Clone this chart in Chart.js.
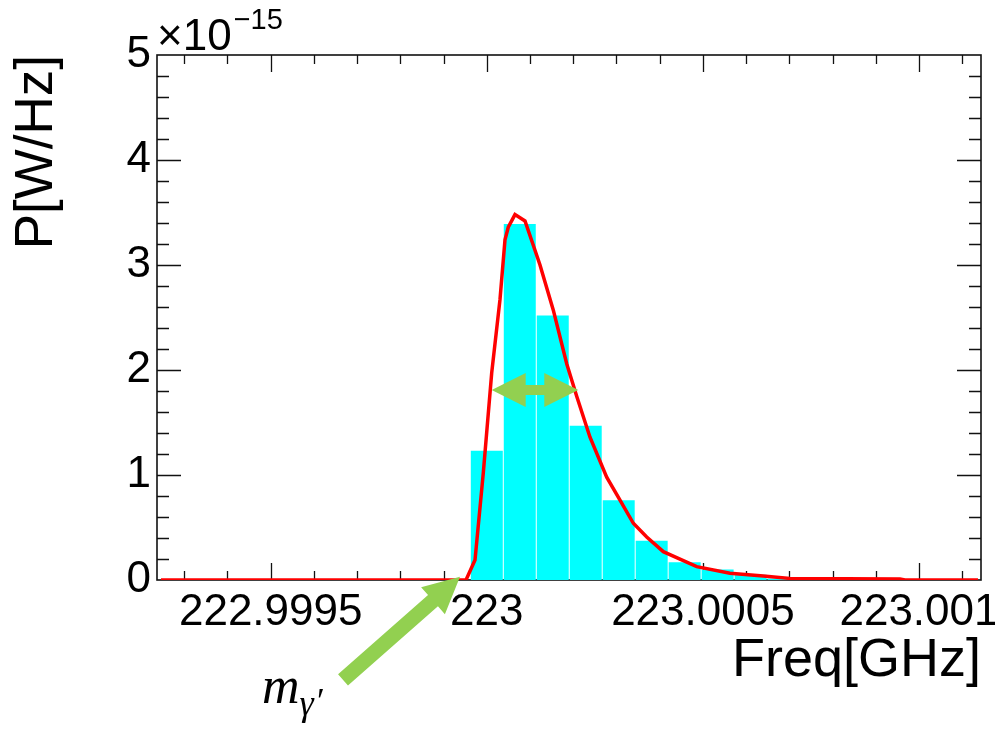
<!DOCTYPE html>
<html><head><meta charset="utf-8">
<script src="https://cdn.jsdelivr.net/npm/chart.js@4.4.1/dist/chart.umd.min.js"></script>
<style>html,body{margin:0;padding:0;background:#fff;}#wrap{width:995px;height:740px;}</style>
</head><body><div id="wrap"><canvas id="c" width="995" height="740"></canvas></div>
<script>
// ---- data (frequency in GHz, power in units of 1e-15 W/Hz) ----
const binCenters = [223.0000000, 223.0000763, 223.0001526, 223.0002289, 223.0003052,
                    223.0003815, 223.0004578, 223.0005341, 223.0006104, 223.0006867];
const binValues  = [1.23, 3.39, 2.52, 1.47, 0.76, 0.375, 0.17, 0.10, 0.05, 0.015];

const curveFreq = [222.9992462, 222.9999519, 222.9999727, 222.9999919, 223.0000113, 223.0000305,
                   223.0000421, 223.0000497, 223.0000652, 223.0000884, 223.0001231, 223.0001539,
                   223.0001849, 223.0002080, 223.0002388, 223.0002774, 223.0003082, 223.0003390,
                   223.0003700, 223.0004084, 223.0004857, 223.0005627, 223.0006398, 223.0007015,
                   223.0009560, 223.0009676, 223.0011365];
const curveValues = [0, 0, 0.19, 1.02, 1.97, 2.67, 3.24, 3.36, 3.48, 3.42, 3.0, 2.57,
                     2.06, 1.75, 1.36, 0.98, 0.76, 0.54, 0.41, 0.27, 0.127, 0.064, 0.038, 0.015,
                     0.01, 0, 0];

const xTickValues = [222.9995, 223, 223.0005, 223.001];
const xTickLabels = ['222.9995', '223', '223.0005', '223.001'];
const yTickValues = [0, 1, 2, 3, 4, 5];
const yTickLabels = ['0', '1', '2', '3', '4', '5'];
const X_MIN = 222.9992369, X_MAX = 223.0011435;

// annotation anchors (data coordinates)
const fwhmArrow = {x0: 223.0000113, x1: 223.0002117, y: 1.81};
const massArrow = {tailX: 222.9996673, tailY: -0.952, tipX: 222.999938, tipY: 0.03};

const FONT = '"Liberation Sans", Arial, Helvetica, sans-serif';
const SERIF = '"Liberation Serif", "DejaVu Serif", serif';
const GREEN = '#92D050';

function fillPoly(ctx, pts) {
  ctx.beginPath();
  ctx.moveTo(pts[0][0], pts[0][1]);
  for (let i = 1; i < pts.length; i++) ctx.lineTo(pts[i][0], pts[i][1]);
  ctx.closePath();
  ctx.fill();
}

const rootFrame = {
  id: 'rootFrame',
  beforeDatasetsDraw(chart) {
    const {ctx, chartArea: a, scales: {x, y}} = chart;
    ctx.save();
    ctx.strokeStyle = '#111';
    ctx.lineWidth = 1.3;
    ctx.beginPath();
    const step = 0.0001;
    const k0 = Math.ceil(x.min / step - 1e-6), k1 = Math.floor(x.max / step + 1e-6);
    for (let k = k0; k <= k1; k++) {
      const px = Math.round(x.getPixelForValue(k * step)) + 0.5;
      const len = (k % 5 === 0) ? 17 : 9;
      ctx.moveTo(px, a.bottom); ctx.lineTo(px, a.bottom - len);
      ctx.moveTo(px, a.top); ctx.lineTo(px, a.top + len);
    }
    for (let k = 1; k < 25; k++) {
      const py = Math.round(y.getPixelForValue(k * 0.2)) + 0.5;
      const len = (k % 5 === 0) ? 24 : 12;
      ctx.moveTo(a.left, py); ctx.lineTo(a.left + len, py);
      ctx.moveTo(a.right, py); ctx.lineTo(a.right - len, py);
    }
    ctx.stroke();
    ctx.lineWidth = 1.6;
    ctx.strokeRect(a.left, a.top, a.right - a.left, a.bottom - a.top);
    ctx.restore();
  },
  afterDraw(chart) {
    const {ctx, chartArea: a, scales: {x, y}} = chart;
    ctx.save();
    // exponent label
    ctx.fillStyle = '#000';
    ctx.textBaseline = 'alphabetic';
    ctx.textAlign = 'left';
    ctx.font = '44px ' + FONT;
    const base = '\u00d710';
    ctx.fillText(base, a.left, a.top - 5);
    const w = ctx.measureText(base).width;
    ctx.font = '29px ' + FONT;
    ctx.fillText('\u221215', a.left + w + 2, a.top - 26);

    ctx.fillStyle = GREEN;
    // FWHM double arrow
    const fx0 = x.getPixelForValue(fwhmArrow.x0), fx1 = x.getPixelForValue(fwhmArrow.x1);
    const fy = y.getPixelForValue(fwhmArrow.y);
    const hl = 34, hh = 17, sh = 5;
    fillPoly(ctx, [
      [fx0, fy], [fx0 + hl, fy - hh], [fx0 + hl, fy - sh], [fx1 - hl, fy - sh],
      [fx1 - hl, fy - hh], [fx1, fy], [fx1 - hl, fy + hh], [fx1 - hl, fy + sh],
      [fx0 + hl, fy + sh], [fx0 + hl, fy + hh]
    ]);
    // mass arrow
    const tx = x.getPixelForValue(massArrow.tailX), ty = y.getPixelForValue(massArrow.tailY);
    const px = x.getPixelForValue(massArrow.tipX), py = y.getPixelForValue(massArrow.tipY);
    const dx = px - tx, dy = py - ty, L = Math.hypot(dx, dy);
    const ux = dx / L, uy = dy / L, nx = -uy, ny = ux;
    const HL = 36, HW = 18, SW = 7.5;
    const bx = px - ux * HL, by = py - uy * HL;
    fillPoly(ctx, [
      [tx + nx * SW, ty + ny * SW], [bx + nx * SW, by + ny * SW], [bx + nx * HW, by + ny * HW],
      [px, py], [bx - nx * HW, by - ny * HW], [bx - nx * SW, by - ny * SW], [tx - nx * SW, ty - ny * SW]
    ]);
    // m_{gamma'} label
    ctx.fillStyle = '#000';
    const lx = tx - 81;
    ctx.font = 'italic 52px ' + SERIF;
    ctx.fillText('m', lx, ty + 23);
    const mw = ctx.measureText('m').width;
    ctx.font = 'italic 36px ' + SERIF;
    ctx.fillText('\u03b3', lx + mw, ty + 35);
    const gw = ctx.measureText('\u03b3').width;
    ctx.font = 'italic 36px ' + SERIF;
    ctx.fillText('\u2032', lx + mw + gw + 1, ty + 33);
    ctx.restore();
  }
};

new Chart(document.getElementById('c'), {
  type: 'bar',
  data: {
    datasets: [
      {
        type: 'line',
        label: 'fit',
        data: curveFreq.map((f, i) => ({x: f, y: curveValues[i]})),
        borderColor: '#ff0000',
        borderWidth: 3.5,
        pointRadius: 0,
        tension: 0,
        fill: false,
        order: 0
      },
      {
        type: 'bar',
        label: 'power',
        data: binCenters.map((f, i) => ({x: f, y: binValues[i]})),
        backgroundColor: '#00ffff',
        borderWidth: 0,
        barPercentage: 0.97,
        categoryPercentage: 1.0,
        order: 1
      }
    ]
  },
  options: {
    responsive: false,
    devicePixelRatio: 1,
    animation: false,
    layout: {padding: {top: 55, right: 14, left: 0, bottom: 0}},
    plugins: {legend: {display: false}, tooltip: {enabled: false}},
    scales: {
      x: {
        type: 'linear',
        min: X_MIN, max: X_MAX,
        offset: false,
        grid: {display: false, drawTicks: false},
        border: {display: false},
        afterBuildTicks: s => { s.ticks = xTickValues.map(v => ({value: v})); },
        afterFit: s => { s.height = 160; s.paddingLeft = 0; s.paddingRight = 0; },
        ticks: {
          autoSkip: false, maxRotation: 0, padding: 6, color: '#000',
          font: {family: FONT, size: 44},
          callback: (v, i) => xTickLabels[i]
        },
        title: {
          display: true, text: 'Freq[GHz]', align: 'end', color: '#000',
          font: {family: FONT, size: 54}, padding: {top: 0, bottom: 46}
        }
      },
      y: {
        type: 'linear',
        min: 0, max: 5,
        grid: {display: false, drawTicks: false},
        border: {display: false},
        afterBuildTicks: s => { s.ticks = yTickValues.map(v => ({value: v})); },
        afterFit: s => { s.width = 157; s.paddingTop = 0; s.paddingBottom = 0; },
        ticks: {
          autoSkip: false, padding: 6, color: '#000',
          font: {family: FONT, size: 44},
          callback: (v, i) => yTickLabels[i]
        },
        title: {
          display: true, text: 'P[W/Hz]', align: 'end', color: '#000',
          font: {family: FONT, size: 53}, padding: {top: 6, bottom: 0}
        }
      }
    }
  },
  plugins: [rootFrame]
});
</script></body></html>
